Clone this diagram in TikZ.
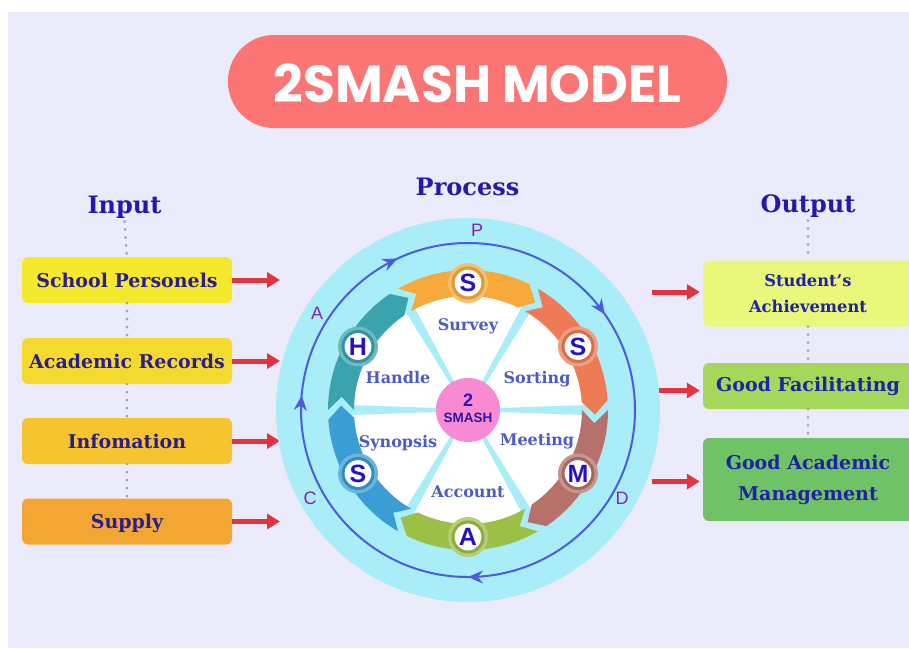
\documentclass[tikz,border=0pt]{standalone}
\usepackage{fontspec}
\usetikzlibrary{arrows.meta,decorations.markings,calc}
\setmainfont{DejaVu Serif}
\newfontfamily\poppinsfam{Poppins}
\newfontfamily\lsansfam{Liberation Sans}
\newcommand\mytitlefont{\poppinsfam\bfseries\fontsize{52}{60}\selectfont}
\newcommand\myheadfont{\bfseries\fontsize{24}{28}\selectfont}
\newcommand\myboxfont{\bfseries\fontsize{19}{22}\selectfont}
\newcommand\myoutsmall{\bfseries\fontsize{16.3}{26}\selectfont}
\newcommand\myoutbig{\bfseries\fontsize{19}{31}\selectfont}
\newcommand\mysectorfont{\bfseries\fontsize{16}{18}\selectfont}
\newcommand\myletterfont{\lsansfam\bfseries\fontsize{25}{28}\selectfont}
\newcommand\mycycfont{\lsansfam\fontsize{18}{20}\selectfont}
\definecolor{bgc}{HTML}{ECEBFC}
\definecolor{titlered}{HTML}{FB7575}
\definecolor{headblue}{HTML}{2A15AE}
\definecolor{boxtext}{HTML}{2C1D8F}
\definecolor{outtext}{HTML}{1F22A5}
\definecolor{yA}{HTML}{F5E92E}
\definecolor{yB}{HTML}{F4DA2E}
\definecolor{yC}{HTML}{F5C42F}
\definecolor{yD}{HTML}{F2A733}
\definecolor{gA}{HTML}{E9F87B}
\definecolor{gB}{HTML}{A6D75B}
\definecolor{gC}{HTML}{6FC266}
\definecolor{arrowred}{HTML}{E2333F}
\definecolor{dotgray}{HTML}{A2A2AC}
\definecolor{cyanbg}{HTML}{A8EDF8}
\definecolor{ringblue}{HTML}{4B5CE0}
\definecolor{cycpurple}{HTML}{8A22A8}
\definecolor{pinkc}{HTML}{F78AD2}
\definecolor{centertext}{HTML}{2E14A8}
\definecolor{sectortext}{HTML}{4D5BC4}
\definecolor{lettertext}{HTML}{2512C0}
\definecolor{bandA}{HTML}{F7A93B}
\definecolor{bandB}{HTML}{EE7B55}
\definecolor{bandC}{HTML}{B6716A}
\definecolor{bandD}{HTML}{9BBF47}
\definecolor{bandE}{HTML}{3A9DD4}
\definecolor{bandF}{HTML}{3AA3AE}
\begin{document}
\begin{tikzpicture}[x=1pt,y=-1pt,
  inbox/.style={rounded corners=6pt, minimum width=210pt, minimum height=46pt, font=\myboxfont, text=boxtext, inner sep=0pt, text height=14pt, text depth=0pt},
  outbox/.style={rounded corners=6pt, minimum width=210pt, inner sep=0pt, text=outtext, align=center},
  dotline/.style={dotgray, line width=3pt, line cap=round, dash pattern=on 0pt off 8pt},
  redarrow/.style={arrowred, line width=5pt, -{Triangle[length=13pt,width=15pt]}},
  headlabel/.style={font=\myheadfont, text=headblue, anchor=base},
  sector/.style={font=\mysectorfont, text=sectortext, text height=11.5pt, text depth=0pt},
  letterc/.style={circle, fill=white, minimum size=30pt, inner sep=0pt, line width=3pt, font=\myletterfont, text=lettertext},
  cyc/.style={font=\mycycfont, text=cycpurple},
  ringarrow/.style={ringblue, line width=2pt}
]
\useasboundingbox (0,0) rectangle (909,648);
\clip (0,0) rectangle (909,648);
\fill[white] (0,0) rectangle (909,648);
\fill[bgc] (8,12) rectangle (909,648);

% title
\node[fill=titlered, rounded corners=46pt, minimum width=499pt, minimum height=93pt] (titlebox) at (477.5,81.5) {};
\node[text=white, font=\mytitlefont] (title) at (477.5,83) {2SMASH MODEL};

% headings
\node[headlabel] (input) at (124.5,213) {Input};
\node[headlabel] (process) at (467.5,195) {Process};
\node[headlabel] (output) at (808,212) {Output};

% input boxes
\node[inbox, fill=yA] (b1) at (127,280) {School Personels};
\node[inbox, fill=yB] (b2) at (127,361) {Academic Records};
\node[inbox, fill=yC] (b3) at (127,441) {Infomation};
\node[inbox, fill=yD] (b4) at (127,521.5) {Supply};

% output boxes
\node[outbox, fill=gA, minimum height=66pt, font=\myoutsmall] (o1) at (808,293.5) {Student's\\Achievement};
\node[outbox, fill=gB, minimum height=46pt, font=\myoutbig] (o2) at (808,386) {Good Facilitating};
\node[outbox, fill=gC, minimum height=83pt, font=\myoutbig] (o3) at (808,479.5) {Good Academic\\Management};

% dotted connectors
\draw[dotline] (input.south) -- (b1.north);
\draw[dotline] (b1.south) -- (b2.north);
\draw[dotline] (b2.south) -- (b3.north);
\draw[dotline] (b3.south) -- (b4.north);
\draw[dotline] (output.south) -- (o1.north);
\draw[dotline] (o1.south) -- (o2.north);
\draw[dotline] (o2.south) -- (o3.north);

% arrows
\coordinate (l1) at (280,280);
\coordinate (l2) at (280,361);
\coordinate (l3) at (280,441);
\coordinate (l4) at (280,521.5);
\draw[redarrow] (b1.east) -- (l1);
\draw[redarrow] (b2.east) -- (l2);
\draw[redarrow] (b3.east) -- (l3);
\draw[redarrow] (b4.east) -- (l4);
\coordinate (r1) at (652,292);
\coordinate (r2) at (652,390.5);
\coordinate (r3) at (652,481.5);
\draw[redarrow, shorten >=3pt] (r1) -- (o1.west |- r1);
\draw[redarrow, shorten >=3pt] (r2) -- (o2.west |- r2);
\draw[redarrow, shorten >=3pt] (r3) -- (o3.west |- r3);

% process circle
\begin{scope}[shift={(468,410)}, y=1pt]
  \fill[cyanbg] (0,0) circle (192);
  \draw[ringarrow, postaction={decorate}, decoration={markings,
      mark=at position 0.25 with {\arrow{Stealth[length=15pt,width=13pt,inset=5pt]}},
      mark=at position 0.5139 with {\arrow{Stealth[length=15pt,width=13pt,inset=5pt]}},
      mark=at position 0.6806 with {\arrow{Stealth[length=15pt,width=13pt,inset=5pt]}},
      mark=at position 0.9028 with {\arrow{Stealth[length=15pt,width=13pt,inset=5pt]}}}]
    (0:167) arc[start angle=360, end angle=0, radius=167];
  \node[cyc] (cp) at (9,180) {P};
  \node[cyc] (cd) at (154,-88) {D};
  \node[cyc] (cc) at (-158,-88) {C};
  \node[cyc] (ca) at (-151,97) {A};
  \fill[white] (0,0) circle (117);
  \draw[black!12, line width=1.5pt] (0,0) circle (116);
  \foreach \a in {0,60,...,300}
    \fill[cyanbg] ($(\a:30)+({\a+90}:2)$) -- ($(\a:119)+({\a+90}:5)$) -- ($(\a:119)+({\a-90}:5)$) -- ($(\a:30)+({\a-90}:2)$) -- cycle;
  \foreach \c/\col in {90/bandA, 30/bandB, -30/bandC, -90/bandD, -150/bandE, 150/bandF} {
    \fill[\col] ({\c+30}:140) arc[start angle={\c+30}, end angle={\c-26}, radius=140]
      -- ({\c-32}:127) -- ({\c-26}:114) arc[start angle={\c-26}, end angle={\c+30}, radius=114]
      -- ({\c+24}:127) -- cycle;
    \fill[\col!75!white] (\c:127) circle (20);
  }
  \node[letterc, draw=bandA!90!black] (ls1) at (90:127) {S};
  \node[letterc, draw=bandB!90!black] (ls2) at (30:127) {S};
  \node[letterc, draw=bandC!90!black] (lm) at (-30:127) {M};
  \node[letterc, draw=bandD!90!black] (la) at (-90:127) {A};
  \node[letterc, draw=bandE!90!black] (ls3) at (-150:127) {S};
  \node[letterc, draw=bandF!90!black] (lh) at (150:127) {H};
  \node[sector] (survey) at (0,85.5) {Survey};
  \node[sector] (sorting) at (69,32) {Sorting};
  \node[sector] (meeting) at (69,-30) {Meeting};
  \node[sector] (account) at (0,-82) {Account};
  \node[sector] (synopsis) at (-70,-32) {Synopsis};
  \node[sector] (handle) at (-70,32) {Handle};
  \node[circle, fill=pinkc, minimum size=64pt, inner sep=0pt] (hub) at (0,0) {};
  \node[font=\lsansfam\bfseries\fontsize{18}{20}\selectfont, text=centertext] (hubtwo) at (0,10) {2};
  \node[font=\lsansfam\bfseries\fontsize{13.5}{16}\selectfont, text=centertext] (hubsmash) at (0,-8) {SMASH};
\end{scope}
\end{tikzpicture}
\end{document}
